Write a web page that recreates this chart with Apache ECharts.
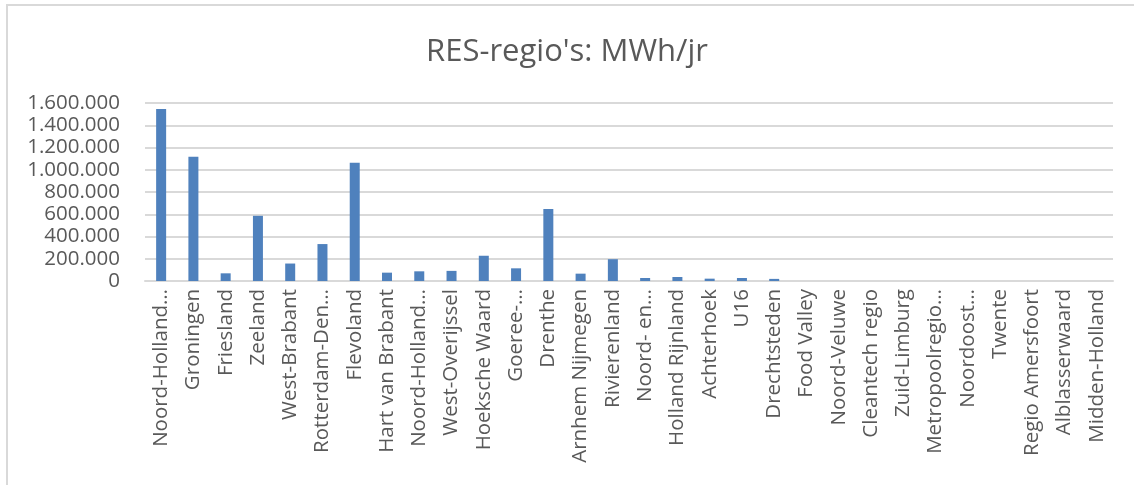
<!DOCTYPE html>
<html>
<head>
<meta charset="utf-8">
<script src="https://cdn.jsdelivr.net/npm/echarts@6/dist/echarts.min.js"></script>
<style>
  html, body { margin: 0; padding: 0; background: #fff; }
  #chart { width: 1134px; height: 485px; }
</style>
</head>
<body>
<div id="chart"></div>
<script>
// RES-regio's, MWh per jaar
var regios = ['Noord-Holland…', 'Groningen', 'Friesland', 'Zeeland', 'West-Brabant',
  'Rotterdam-Den…', 'Flevoland', 'Hart van Brabant', 'Noord-Holland…', 'West-Overijssel',
  'Hoeksche Waard', 'Goeree-…', 'Drenthe', 'Arnhem Nijmegen', 'Rivierenland',
  'Noord- en…', 'Holland Rijnland', 'Achterhoek', 'U16', 'Drechtsteden',
  'Food Valley', 'Noord-Veluwe', 'Cleantech regio', 'Zuid-Limburg', 'Metropoolregio…',
  'Noordoost…', 'Twente', 'Regio Amersfoort', 'Alblasserwaard', 'Midden-Holland']
var mwh = [1545000, 1116000, 69000, 586000, 157000,
  332000, 1064000, 75000, 87000, 91000,
  227000, 114000, 647000, 66000, 196000,
  27000, 36000, 21000, 27000, 19000,
  0, 0, 0, 0, 0,
  0, 0, 0, 0, 0]
var yTicks = [0, 200000, 400000, 600000, 800000, 1000000, 1200000, 1400000, 1600000]

var fontFam = '"Open Sans", "Noto Sans", sans-serif'
var chart = echarts.init(document.getElementById('chart'))

// duizendtallen met een punt
function fmt(v) {
  return String(v).replace(/\B(?=(\d{3})+(?!\d))/g, '.')
}

var option = {
  animation: false,
  backgroundColor: '#fff',
  title: {
    text: "RES-regio's: MWh/jr",
    left: 'center',
    top: 32,
    textStyle: { fontFamily: fontFam, fontSize: 31, fontWeight: 'normal', color: '#595959' }
  },
  graphic: [{
    type: 'rect',
    shape: { x: 7, y: 5, width: 1140, height: 500 },
    style: { fill: 'none', stroke: '#d9d9d9', lineWidth: 2 }
  }],
  grid: { left: 145, right: 21, top: 103, bottom: 204, containLabel: false },
  xAxis: {
    type: 'category',
    data: regios,
    axisLine: { lineStyle: { color: '#d9d9d9', width: 2 } },
    axisTick: { show: false },
    axisLabel: {
      interval: 0,
      rotate: 90,
      margin: 8,
      fontFamily: fontFam,
      fontSize: 20.5,
      color: '#595959'
    }
  },
  yAxis: {
    type: 'value',
    min: yTicks[0],
    max: yTicks[yTicks.length - 1],
    interval: 200000,
    axisLine: { show: false },
    axisTick: { show: false },
    splitLine: { lineStyle: { color: '#d9d9d9', width: 2 } },
    axisLabel: {
      margin: 25,
      fontFamily: fontFam,
      fontSize: 20.5,
      color: '#595959',
      formatter: fmt
    }
  },
  series: [{
    type: 'bar',
    data: mwh,
    barWidth: 10,
    itemStyle: { color: '#4F81BD' }
  }]
}

chart.setOption(option)
</script>
</body>
</html>
